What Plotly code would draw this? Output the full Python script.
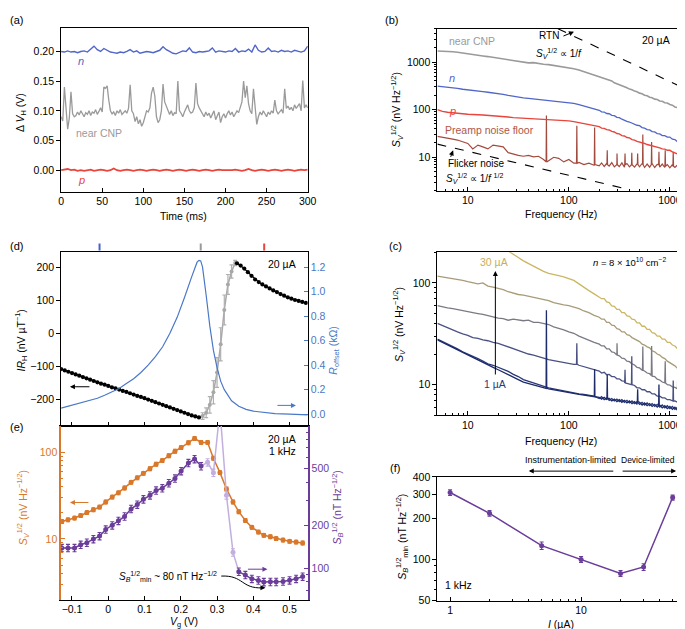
import plotly.graph_objects as go

W, H = 685, 629
FONT = "Liberation Sans, Arial, sans-serif"

# ---------------- (a) time traces ----------------
t_gray_ms = list(range(0, 301, 2))
v_near_cnp = [0.090, 0.083, 0.140, 0.095, 0.069, 0.088, 0.132, 0.095, 0.090, 0.092,
              0.098, 0.093, 0.100, 0.095, 0.090, 0.097, 0.094, 0.100, 0.092, 0.098,
              0.096, 0.102, 0.094, 0.099, 0.105, 0.098, 0.140, 0.138, 0.142, 0.118,
              0.100, 0.095, 0.098, 0.092, 0.100, 0.096, 0.102, 0.094, 0.098, 0.100,
              0.096, 0.104, 0.144, 0.100, 0.095, 0.082, 0.090, 0.078, 0.085, 0.074,
              0.080, 0.092, 0.100, 0.098, 0.105, 0.130, 0.140, 0.125, 0.090, 0.080,
              0.085, 0.100, 0.145, 0.115, 0.108, 0.098, 0.094, 0.100, 0.092, 0.097,
              0.095, 0.150, 0.100, 0.096, 0.090, 0.098, 0.105, 0.110, 0.100, 0.096,
              0.098, 0.105, 0.147, 0.112, 0.105, 0.100, 0.095, 0.090, 0.098, 0.092,
              0.096, 0.088, 0.094, 0.100, 0.085, 0.092, 0.098, 0.080, 0.090, 0.095,
              0.088, 0.095, 0.100, 0.093, 0.098, 0.090, 0.095, 0.100, 0.097, 0.105,
              0.115, 0.150, 0.122, 0.142, 0.112, 0.100, 0.095, 0.137, 0.100, 0.077,
              0.090, 0.098, 0.093, 0.100, 0.095, 0.090, 0.098, 0.094, 0.100, 0.096,
              0.118, 0.100, 0.095, 0.098, 0.102, 0.096, 0.137, 0.104, 0.108, 0.102,
              0.106, 0.100, 0.110, 0.104, 0.108, 0.112, 0.100, 0.151, 0.105, 0.110, 0.105]
t_np_ms = list(range(0, 301, 4))
v_n = [0.200, 0.199, 0.201, 0.199, 0.200, 0.198, 0.200, 0.201, 0.199, 0.204,
       0.209, 0.203, 0.200, 0.205, 0.202, 0.199, 0.198, 0.197, 0.199, 0.198,
       0.200, 0.203, 0.199, 0.201, 0.197, 0.198, 0.200, 0.199, 0.198, 0.200,
       0.202, 0.208, 0.203, 0.200, 0.197, 0.196, 0.199, 0.201, 0.200, 0.206,
       0.199, 0.198, 0.200, 0.199, 0.200, 0.201, 0.206, 0.199, 0.201, 0.200,
       0.199, 0.201, 0.200, 0.205, 0.199, 0.201, 0.200, 0.204, 0.199, 0.211,
       0.202, 0.199, 0.200, 0.206, 0.200, 0.201, 0.199, 0.202, 0.200, 0.201,
       0.199, 0.202, 0.200, 0.199, 0.201, 0.209]
v_p = [0.000, 0.001, 0.002, 0.000, 0.001, -0.001, 0.000, -0.001, 0.000, 0.001,
       -0.001, 0.000, 0.001, 0.000, -0.001, 0.000, 0.003, 0.000, -0.001, 0.000,
       0.001, 0.000, -0.001, 0.000, 0.001, 0.000, -0.001, 0.000, 0.001, 0.000,
       -0.001, 0.000, 0.001, 0.000, -0.001, 0.000, 0.001, 0.000, -0.001, 0.000,
       0.001, 0.000, -0.001, 0.000, 0.001, 0.000, -0.001, 0.000, 0.001, 0.000,
       0.000, -0.001, 0.000, 0.001, 0.000, -0.001, 0.000, 0.002, 0.000, -0.001,
       0.000, 0.001, 0.000, -0.001, 0.000, 0.001, 0.000, -0.001, 0.000, 0.001,
       0.000, -0.001, 0.000, 0.001, 0.000, 0.001]

# ---------------- (b), (c) spectra ----------------
freq_hz = [5, 5.6, 6.3, 7.1, 7.9, 8.9, 10, 11.2, 12.6, 14.1, 15.8, 17.8, 20, 22.4, 25.1, 28.2,
           31.6, 35.5, 39.8, 44.7, 50.1, 56.2, 63.1, 70.8, 79.4, 89.1, 100, 112, 126, 141, 158, 178,
           200, 211, 224, 237, 251, 266, 282, 299, 316, 335, 355, 376, 398, 422, 447, 473, 501,
           531, 562, 596, 631, 668, 708, 750, 794, 841, 891, 944, 1000, 1059, 1122, 1189, 1259, 1334]

sb_cnp = [1700, 1690, 1670, 1640, 1600, 1540, 1450, 1420, 1380, 1340, 1300, 1250, 1220, 1170, 1120, 1060,
          1040, 990, 960, 970, 920, 900, 880, 850, 820, 790, 760, 720, 680, 630, 590, 540,
          498, 470, 460, 440, 415, 400, 365, 350, 330, 318, 300, 288, 270, 262, 245, 238, 222,
          215, 200, 196, 182, 178, 166, 163, 152, 150, 140, 138, 128, 124, 114, 110, 100, 94]
sb_n = [312, 305, 298, 290, 280, 268, 258, 250, 244, 238, 232, 226, 218, 210, 200, 190,
        182, 176, 172, 168, 163, 160, 156, 152, 149, 146, 142, 136, 128, 120, 112, 104,
        97, 90, 89, 83, 82, 76, 75, 69, 68, 63, 61, 57, 55, 52, 50, 47, 46,
        42, 41, 38, 37.5, 34.5, 34, 31.5, 31, 28.5, 28.5, 26.5, 26.5, 24, 23.5, 21, 20.5, 18]
sb_p = [100, 92, 88, 85, 84, 82, 80, 80, 78, 77, 76, 75, 74, 72, 70, 68,
        67, 67, 66, 66, 65, 64, 63, 62, 60, 59, 58, 56, 53, 51, 49, 46,
        44, 41, 40.5, 38, 37.5, 35, 34, 31.5, 31, 28.5, 28, 26, 25.5, 23.5, 23, 21.5, 21,
        20, 19.5, 18.5, 18, 17, 16.8, 16, 15.8, 15, 14.8, 14, 14, 13, 12.6, 11.8, 11.2, 10.4]
sb_preamp = [27.5, 26, 25, 24, 23, 21.5, 19.5, 15, 18, 16.5, 15, 18, 17, 16.5, 12.5, 11.5,
             11, 10.5, 11, 10.2, 10.5, 9, 8.5, 10, 9.5, 8, 9, 7.5, 7.8, 7, 7.5, 6.8,
             6.6, 7.6, 6.4, 7.4, 6.5, 7.7, 6.3, 7.5, 6.4, 7.6, 6.2, 7.4, 6.3, 7.5, 6.2, 7.3, 6.3,
             7.4, 6.1, 7.2, 6.2, 7.3, 6.1, 7.1, 6.2, 7.2, 6.1, 7.0, 6.0, 7.0, 6.1, 6.9, 6.0, 6.8]
preamp_spike_f = [60, 120, 180, 240, 300, 360, 420, 480, 540, 660, 780, 900, 1080, 1200]
preamp_spike_peak = [75, 46, 42, 14, 12, 12, 12.5, 12, 30, 21, 13, 14, 13, 14]
preamp_spike_base = [8, 7.5, 7, 7, 7, 7, 7, 7, 7, 7, 7, 6.5, 6.5, 6.5]
n_spike_f, n_spike_peak, n_spike_base = [1200], [30], [21]
p_spike_f, p_spike_peak, p_spike_base = [1200], [14], [11.5]
rtn_guide_f, rtn_guide_s = [78, 1400], [5000, 278]
flicker_guide_f, flicker_guide_s = [5, 360], [18.9, 2.2]

sc_30uA = [430, 410, 390, 372, 356, 340, 325, 310, 295, 280, 268, 255, 240, 222, 205, 190,
           178, 165, 155, 145, 138, 130, 124, 122, 118, 115, 111, 106, 98, 90, 84, 78,
           73, 70, 70, 65, 64, 59.5, 59, 55, 55, 51, 51, 47.5, 47, 44, 43.5, 40.5, 40.5,
           37.5, 37.5, 35, 35, 32.5, 32, 30, 30, 28, 28, 26, 26, 24.5, 24, 22.5, 22.5, 21]
sc_20uA = [117, 115, 112, 110, 108, 106, 103, 100, 98, 100, 93, 91, 89, 86, 82, 79,
           77, 76, 74, 72, 71, 68, 67, 64, 63, 61, 60, 58, 56, 53, 51, 48,
           46, 44, 44, 41, 41, 38.5, 38, 35.5, 35, 33, 33, 31, 30.5, 29, 28, 27, 26.5,
           25, 24.5, 23.5, 23, 21.5, 21, 20, 19.5, 18.5, 18, 17, 16.5, 15.8, 15.3, 14.5, 14, 13.3]
sc_10uA = [60, 58, 57, 56, 55, 53, 52, 51, 50, 49, 47.5, 46, 45, 44.5, 43, 44,
           43, 42.5, 43, 41, 41, 40, 39, 37, 36, 34.5, 33, 32, 30, 28.5, 27.5, 26,
           25, 24, 24, 22.5, 22.5, 21, 20.7, 19.5, 19.2, 18.2, 18, 17, 16.8, 16, 15.6, 14.8, 14.6,
           13.8, 13.6, 13, 12.8, 12.1, 12, 11.3, 11.1, 10.6, 10.4, 10, 9.9, 9.5, 9.4, 9.1, 9, 8.7]
sc_5uA = [40, 38, 36, 34.5, 33, 31.5, 30.5, 29, 28.5, 27.5, 27, 26, 25.5, 24.5, 23.5, 22.5,
          21.8, 21, 20, 19.5, 18.8, 18, 17.6, 17.2, 16.8, 16.5, 16.2, 15.8, 15.5, 15, 14.5, 14.1,
          13.6, 13, 13.2, 12.5, 12.6, 12, 12, 11.4, 11.4, 10.9, 10.8, 10.3, 10.2, 9.8, 9.8, 9.3, 9.3,
          8.9, 8.9, 8.5, 8.5, 8.1, 8.1, 7.7, 7.7, 7.4, 7.4, 7.1, 7.1, 6.9, 6.9, 6.7, 6.7, 6.5]
sc_2uA = [28, 26.5, 25, 24, 22.5, 21, 20, 19, 18, 17, 16, 15.5, 14.8, 14, 13.5, 12.6,
          12, 11.2, 10.8, 10.3, 9.9, 9.6, 9.3, 9.1, 8.9, 8.6, 8.4, 8.2, 8.1, 8, 7.8, 7.7,
          7.3, 7.6, 7.1, 7.4, 7.0, 7.3, 6.9, 7.2, 6.8, 7.1, 6.7, 7.0, 6.6, 6.9, 6.5, 6.8, 6.4,
          6.7, 6.3, 6.6, 6.2, 6.5, 6.1, 6.4, 6.0, 6.3, 5.9, 6.2, 5.8, 6.1, 5.7, 6.0, 5.6, 5.9]
sc_1uA = [27.5, 26, 24.5, 23, 22, 20.5, 19.5, 18.5, 17.5, 16.5, 15.5, 14.8, 14, 13.2, 12.5, 11.8,
          11.2, 10.6, 10.3, 9.9, 9.6, 9.3, 9.1, 8.9, 8.7, 8.5, 8.3, 8.1, 8, 7.9, 7.7, 7.6,
          7.5, 7.2, 7.5, 7.1, 7.3, 6.9, 7.2, 6.8, 7.1, 6.7, 7.0, 6.6, 6.9, 6.5, 6.8, 6.4, 6.7,
          6.3, 6.6, 6.2, 6.5, 6.1, 6.4, 6.0, 6.3, 5.9, 6.2, 5.8, 6.1, 5.7, 6.0, 5.6, 5.9, 5.6]
c1_spike_f, c1_spike_peak, c1_spike_base = [60, 180, 240, 480, 780], [54, 14.2, 12.5, 9, 10], [9.2, 7.6, 7.3, 6.8, 6.2]
c5_spike_f, c5_spike_peak, c5_spike_base = [120, 360, 420, 1080], [25.5, 14, 19, 11], [15.8, 10.4, 10, 6.9]
c10_spike_f, c10_spike_peak, c10_spike_base = [300, 540, 660, 900, 1200], [25.5, 23.7, 24, 17, 14], [19.5, 13.8, 12.3, 10.4, 9.1]

# ---------------- (d) ----------------
vg_d_left = [-0.13, -0.12, -0.11, -0.10, -0.09, -0.08, -0.07, -0.06, -0.05, -0.04, -0.03, -0.02, -0.01,
             0.00, 0.01, 0.02, 0.03, 0.04, 0.05, 0.06, 0.07, 0.08, 0.09, 0.10, 0.11, 0.12, 0.13,
             0.14, 0.15, 0.16, 0.17, 0.18, 0.19, 0.20, 0.21, 0.22, 0.23, 0.24, 0.25]
irh_left = [-108, -112, -116, -120, -124, -128, -132, -136, -140, -144, -148, -152, -155,
            -159, -163, -166, -170, -174, -177, -181, -185, -189, -192, -196, -200, -204, -208,
            -212, -216, -220, -224, -228, -232, -236, -240, -244, -248, -251, -254]
vg_d_mid = [0.26, 0.27, 0.28, 0.29, 0.30, 0.31, 0.32, 0.33, 0.34, 0.35]
irh_mid = [-250, -240, -216, -178, -118, -33, 71, 148, 187, 213]
irh_mid_err = [10, 15, 25, 35, 45, 50, 45, 30, 20, 8]
vg_d_right = [0.355, 0.365, 0.375, 0.385, 0.395, 0.405, 0.415, 0.425, 0.435, 0.445,
              0.455, 0.465, 0.475, 0.485, 0.495, 0.505, 0.515, 0.525, 0.535, 0.545]
irh_right = [212, 205, 196, 185, 174, 163, 155, 148, 142, 136,
             130, 125, 119, 114, 109, 105, 101, 98, 95, 92]
vg_roff = [-0.13, -0.11, -0.09, -0.07, -0.05, -0.03, -0.01, 0.01, 0.03, 0.05, 0.07, 0.09, 0.11, 0.13,
           0.15, 0.17, 0.19, 0.21, 0.22, 0.23, 0.24, 0.245, 0.25, 0.255, 0.26, 0.265, 0.27, 0.28,
           0.29, 0.30, 0.31, 0.32, 0.33, 0.34, 0.36, 0.38, 0.40, 0.43, 0.46, 0.50, 0.55]
r_offset = [0.05, 0.065, 0.08, 0.095, 0.11, 0.13, 0.155, 0.18, 0.21, 0.25, 0.29, 0.34, 0.40, 0.47,
            0.55, 0.66, 0.79, 0.95, 1.04, 1.12, 1.2, 1.24, 1.255, 1.25, 1.2, 1.1, 0.97, 0.72,
            0.52, 0.38, 0.27, 0.2, 0.15, 0.11, 0.065, 0.04, 0.025, 0.012, 0.005, 0.0, -0.005]
gate_marks_vg = [-0.024, 0.255, 0.43]
gate_marks_col = ["#4a62c8", "#9a9a9a", "#e8453c"]

# ---------------- (e) ----------------
vg_e = [-0.128, -0.111, -0.093, -0.076, -0.059, -0.041, -0.024, -0.007, 0.011, 0.028, 0.045, 0.063,
        0.080, 0.097, 0.115, 0.132, 0.149, 0.167, 0.184, 0.201, 0.221, 0.238, 0.256, 0.274, 0.290,
        0.308, 0.326, 0.344, 0.360, 0.378, 0.396, 0.414, 0.429, 0.447, 0.463, 0.482, 0.500, 0.518, 0.536]
sv_e = [15.9, 16.6, 17.4, 18.6, 20.1, 21.7, 23.3, 26.7, 30.4, 34.0, 38.7, 44.9, 50.6, 57.0, 64.4, 72.6,
        80.0, 91.0, 102.6, 113, 128.5, 143.6, 129.5, 129.5, 85, 58.1, 37.7, 26.7, 20.6, 16.3, 13.6,
        12.0, 11.0, 10.6, 10.1, 9.7, 9.4, 9.2, 9.0]
sb_e = [138.6, 138.6, 138.6, 146, 151, 160, 168, 187, 200, 215, 231, 261, 280, 305, 325, 352, 365,
        396, 427, 482, 549, 585, 522, 555, 469, 1300, 325, 129, 94.4, 89.5, 84, 81.9, 79.8, 80, 80,
        80.6, 82, 84, 87.2]
sb_e_light_idx = [23, 24, 25, 26, 27]

# ---------------- (f) ----------------
i_ua = [1, 2, 5, 10, 20, 30, 50]
sb_min = [308, 217, 126, 100, 79, 88, 283]
sb_min_err = [15, 10, 8, 5, 4, 5, 12]

# ================= build figure =================
def dom_x(a, b):
    return [a / W, b / W]

def dom_y(top, bot):
    return [1 - bot / H, 1 - top / H]

def with_spikes(f, s, sf, sp, sb):
    pts = list(zip(f, s))
    for a, p, b in zip(sf, sp, sb):
        pts += [(a * 0.993, b), (a, p), (a * 1.007, b)]
    pts.sort()
    return [q[0] for q in pts], [q[1] for q in pts]

fig = go.Figure()

def line(x, y, xa, ya, color, width=1.2, dash=None, **kw):
    fig.add_trace(go.Scatter(x=x, y=y, xaxis=xa, yaxis=ya, mode="lines",
                             line=dict(color=color, width=width, dash=dash), hoverinfo="skip", **kw))

# (a)
line(t_gray_ms, v_near_cnp, "x", "y", "#9a9a9a", 1.3)
line(t_np_ms, v_n, "x", "y", "#5166c9", 1.4)
line(t_np_ms, v_p, "x", "y", "#e8453c", 1.8)

# (b)
fx, fy = with_spikes(freq_hz, sb_preamp, preamp_spike_f, preamp_spike_peak, preamp_spike_base)
line(fx, fy, "x2", "y2", "#a34a3e", 1.2)
fx, fy = with_spikes(freq_hz, sb_p, p_spike_f, p_spike_peak, p_spike_base)
line(fx, fy, "x2", "y2", "#e8453c", 1.4)
fx, fy = with_spikes(freq_hz, sb_n, n_spike_f, n_spike_peak, n_spike_base)
line(fx, fy, "x2", "y2", "#5166c9", 1.3)
line(freq_hz, sb_cnp, "x2", "y2", "#9a9a9a", 1.6)
line(rtn_guide_f, rtn_guide_s, "x2", "y2", "black", 1.1, "dash")
line(flicker_guide_f, flicker_guide_s, "x2", "y2", "black", 1.1, "dash")

# (c)
c_curves = [
    (sc_30uA, [], [], [], "#cbb663"),
    (sc_20uA, [], [], [], "#a89b78"),
    (sc_10uA, c10_spike_f, c10_spike_peak, c10_spike_base, "#7b7a84"),
    (sc_5uA, c5_spike_f, c5_spike_peak, c5_spike_base, "#4a5182"),
    (sc_2uA, [], [], [], "#2a3878"),
    (sc_1uA, c1_spike_f, c1_spike_peak, c1_spike_base, "#1d2b6b"),
]
for s, sf, sp, sbs, col in c_curves:
    fx, fy = with_spikes(freq_hz, s, sf, sp, sbs)
    line(fx, fy, "x3", "y3", col, 1.3)

# (d)
line(vg_roff, r_offset, "x4", "y5", "#4a78c8", 1.2)
fig.add_trace(go.Scatter(x=[vg_d_left[-1]] + vg_d_mid + [vg_d_right[0]],
                         y=[irh_left[-1]] + irh_mid + [irh_right[0]],
                         xaxis="x4", yaxis="y4", mode="lines", line=dict(color="#a8a8a8", width=1.5),
                         hoverinfo="skip"))
fig.add_trace(go.Scatter(x=vg_d_mid, y=irh_mid, xaxis="x4", yaxis="y4", mode="markers",
                         marker=dict(color="#a8a8a8", size=4),
                         error_y=dict(type="data", array=irh_mid_err, color="#b0b0b0", thickness=1.2, width=2),
                         hoverinfo="skip"))
for vx, vy in [(vg_d_left, irh_left), (vg_d_right, irh_right)]:
    fig.add_trace(go.Scatter(x=vx, y=vy, xaxis="x4", yaxis="y4", mode="lines+markers",
                             line=dict(color="black", width=1.2), marker=dict(color="black", size=4.2),
                             hoverinfo="skip"))

# (e)
ORANGE, PURPLE, LPURPLE = "#d9782a", "#6a3d9a", "#c3aee0"
fig.add_trace(go.Scatter(x=vg_e, y=sv_e, xaxis="x5", yaxis="y6", mode="lines+markers",
                         line=dict(color=ORANGE, width=1.5), marker=dict(color=ORANGE, size=5),
                         error_y=dict(type="percent", value=5, color=ORANGE, thickness=1.1, width=2),
                         hoverinfo="skip"))
lo, hi = sb_e_light_idx[0] - 1, sb_e_light_idx[-1] + 1
fig.add_trace(go.Scatter(x=vg_e[lo:hi + 1], y=sb_e[lo:hi + 1], xaxis="x5", yaxis="y7", mode="lines",
                         line=dict(color=LPURPLE, width=1.5), hoverinfo="skip"))
fig.add_trace(go.Scatter(x=[vg_e[i] for i in sb_e_light_idx], y=[sb_e[i] for i in sb_e_light_idx],
                         xaxis="x5", yaxis="y7", mode="markers", marker=dict(color=LPURPLE, size=5),
                         error_y=dict(type="percent", value=6, color=LPURPLE, thickness=1.1, width=2),
                         hoverinfo="skip"))
for a, b in [(0, lo), (hi, len(vg_e) - 1)]:
    fig.add_trace(go.Scatter(x=vg_e[a:b + 1], y=sb_e[a:b + 1], xaxis="x5", yaxis="y7", mode="lines+markers",
                             line=dict(color=PURPLE, width=1.5), marker=dict(color=PURPLE, size=5),
                             error_y=dict(type="percent", value=6, color=PURPLE, thickness=1.1, width=2),
                             hoverinfo="skip"))

# (f)
fig.add_trace(go.Scatter(x=i_ua, y=sb_min, xaxis="x6", yaxis="y8", mode="lines+markers",
                         line=dict(color=PURPLE, width=1.5), marker=dict(color=PURPLE, size=5),
                         error_y=dict(type="data", array=sb_min_err, color=PURPLE, thickness=1.1, width=2),
                         hoverinfo="skip"))

# ---------------- axes ----------------
def axis(**kw):
    base = dict(showline=True, linecolor="black", linewidth=1, mirror=True, showgrid=False,
                zeroline=False, ticks="outside", ticklen=4, tickwidth=1, tickcolor="black",
                tickfont=dict(size=10.5, color="black", family=FONT))
    base.update(kw)
    return base

def decade_minor(lo_exp, hi_exp, lo, hi):
    vals = []
    for e in range(lo_exp, hi_exp + 1):
        for m in range(2, 10):
            v = m * 10 ** e
            if lo <= v <= hi:
                vals.append(v)
    return vals

XA = dom_x(51, 302)
XB = dom_x(434, 684)
LOG5, LOG1350 = 0.69897, 3.13033

layout = dict(
    width=W, height=H, margin=dict(l=0, r=0, t=0, b=0), paper_bgcolor="white", plot_bgcolor="white",
    showlegend=False, font=dict(family=FONT, size=10.5, color="black"),
    # (a)
    xaxis=axis(domain=XA, anchor="y", range=[0, 300], tickvals=[0, 50, 100, 150, 200, 250, 300], ticks="inside"),
    yaxis=axis(domain=dom_y(14, 181), anchor="x", range=[-0.036, 0.24],
               tickvals=[0, 0.05, 0.10, 0.15, 0.20], tickformat=".2f"),
    # (b)
    xaxis2=axis(domain=XB, anchor="y2", type="log", range=[LOG5, LOG1350], tickvals=[10, 100, 1000],
                ticktext=["10", "100", "1000"], ticks="inside",
                minor=dict(tickvals=decade_minor(0, 3, 5, 1350), ticks="inside", ticklen=2, tickcolor="black")),
    yaxis2=axis(domain=dom_y(15, 180), anchor="x2", type="log", range=[0.30103, 3.69897],
                tickvals=[10, 100, 1000], ticktext=["10", "100", "1000"],
                minor=dict(tickvals=decade_minor(0, 3, 2, 5000), ticks="outside", ticklen=2, tickcolor="black")),
    # (c)
    xaxis3=axis(domain=XB, anchor="y3", type="log", range=[LOG5, LOG1350], tickvals=[10, 100, 1000],
                ticktext=["10", "100", "1000"], ticks="inside",
                minor=dict(tickvals=decade_minor(0, 3, 5, 1350), ticks="inside", ticklen=2, tickcolor="black")),
    yaxis3=axis(domain=dom_y(243, 409), anchor="x3", type="log", range=[0.69897, 2.30103],
                tickvals=[10, 100], ticktext=["10", "100"],
                minor=dict(tickvals=decade_minor(0, 2, 5, 200), ticks="outside", ticklen=2, tickcolor="black")),
    # (d)
    xaxis4=axis(domain=XA, anchor="y4", range=[-0.13, 0.55], tickvals=[-0.1, 0, 0.1, 0.2, 0.3, 0.4, 0.5],
                showticklabels=False, ticks="inside"),
    yaxis4=axis(domain=dom_y(243, 420), anchor="x4", range=[-280, 245], mirror=False,
                tickvals=[-200, -100, 0, 100, 200], ticktext=["\u2212200", "\u2212100", "0", "100", "200"]),
    yaxis5=axis(anchor="x4", overlaying="y4", side="right", range=[-0.096, 1.32], mirror=False,
                tickvals=[0, 0.2, 0.4, 0.6, 0.8, 1.0, 1.2], tickformat=".1f", ticks="inside",
                tickcolor="#4a78c8", tickfont=dict(size=10.5, color="#4a78c8", family=FONT)),
    # (e)
    xaxis5=axis(domain=XA, anchor="y6", range=[-0.13, 0.55], tickvals=[-0.1, 0, 0.1, 0.2, 0.3, 0.4, 0.5],
                ticktext=["\u22120.1", "0", "0.1", "0.2", "0.3", "0.4", "0.5"], ticks="inside"),
    yaxis6=axis(domain=dom_y(420, 597), anchor="x5", type="log", range=[0.30103, 2.30103], mirror=False,
                linecolor=ORANGE, linewidth=1.5, tickcolor=ORANGE, ticks="inside",
                tickvals=[10, 100], ticktext=["10", "100"],
                tickfont=dict(size=10.5, color=ORANGE, family=FONT),
                minor=dict(tickvals=decade_minor(0, 2, 2, 200), ticks="inside", ticklen=2, tickcolor=ORANGE)),
    yaxis7=axis(anchor="x5", overlaying="y6", side="right", type="log", range=[1.77815, 3.0], mirror=False,
                linecolor=PURPLE, linewidth=1.5, tickcolor=PURPLE, ticks="inside",
                tickvals=[100, 200, 500], ticktext=["100", "200", "500"],
                tickfont=dict(size=10.5, color=PURPLE, family=FONT),
                minor=dict(tickvals=decade_minor(1, 3, 60, 1000), ticks="inside", ticklen=2, tickcolor=PURPLE)),
    # (f)
    xaxis6=axis(domain=XB, anchor="y8", type="log", range=[-0.09691, 1.77815], tickvals=[1, 10],
                ticktext=["1", "10"], ticks="inside",
                minor=dict(tickvals=decade_minor(0, 1, 0.8, 60), ticks="inside", ticklen=2, tickcolor="black")),
    yaxis8=axis(domain=dom_y(472, 598), anchor="x6", type="log", range=[1.69897, 2.60206],
                tickvals=[50, 100, 200, 300, 400], ticktext=["50", "100", "200", "300", "400"],
                minor=dict(tickvals=[60, 70, 80, 90], ticks="outside", ticklen=2, tickcolor="black")),
)
fig.update_layout(**layout)

# ---------------- annotations ----------------
ann = []

def text(x, y, s, size=10.5, color="black", xanchor="center", angle=0):
    ann.append(dict(x=x / W, y=1 - y / H, xref="paper", yref="paper", text=s, showarrow=False,
                    font=dict(size=size, color=color, family=FONT), xanchor=xanchor, yanchor="middle",
                    textangle=angle))

def arrow(xh, yh, xt, yt, color="black", head=2, width=1.0):
    ann.append(dict(x=xh / W, y=1 - yh / H, xref="paper", yref="paper", ax=xt - xh, ay=yt - yh,
                    showarrow=True, arrowhead=head, arrowsize=1, arrowwidth=width, arrowcolor=color, text=""))

SV = "<i>S</i><sub><i>V</i></sub><sup>1/2</sup>"
# panel letters
for lab, x, y in [("(a)", 6, 6), ("(b)", 387, 6), ("(c)", 391, 237), ("(d)", 6, 237), ("(e)", 6, 421), ("(f)", 391, 463)]:
    text(x, y, lab, 11)

# (a)
text(10, 100, "\u0394 <i>V</i><sub>H</sub> (V)", angle=-90)
text(176, 206, "Time (ms)")
text(66, 48, "<i>n</i>", 11, "#5166c9", "left")
text(64, 121, "near CNP", 10.5, "#9a9a9a", "left")
text(66, 169, "<i>p</i>", 11, "#e8453c", "left")

# (b)
text(393, 98, SV + " (nV Hz<sup>\u22121/2</sup>)", angle=-90)
text(560, 204, "Frequency (Hz)")
text(444, 28, "near CNP", 10.5, "#9a9a9a", "left")
text(444, 65, "<i>n</i>", 11, "#5166c9", "left")
text(444, 99, "<i>p</i>", 11, "#e8453c", "left")
text(440, 118, "Preamp noise floor", 10.5, "#b0564a", "left")
text(443, 152, "Flicker noise", 10, "black", "left")
text(441, 168, SV + " \u221d 1/<i>f</i> <sup>1/2</sup>", 10, "black", "left")
text(535, 22, "RTN", 10, "black", "left")
text(532, 40, SV + " \u221d 1/<i>f</i>", 10, "black", "left")
text(673, 26, "20 \u00b5A", 10.5, "black", "right")
arrow(573, 18, 561, 23)
arrow(450, 139, 447, 147)

# (c)
text(630, 253, "<i>n</i> = 8 \u00d7 10<sup>10</sup> cm<sup>\u22122</sup>", 9.5, "black", "center")
text(395, 317, SV + " (nV Hz<sup>\u22121/2</sup>)", angle=-90)
text(560, 435, "Frequency (Hz)")
text(492, 253, "30 \u00b5A", 10.5, "#c5b05a")
text(493, 377, "1 \u00b5A", 10.5, "#2a3878")
arrow(493, 262, 493, 367)

# (d)
text(10, 333, "<i>IR</i><sub>H</sub> (nV \u00b5T<sup>\u22121</sup>)", angle=-90)
text(329, 343, "<i>R</i><sub>offset</sub> (k\u03a9)", 10.5, "#4a78c8", angle=-90)
text(292, 255, "20 \u00b5A", 10.5, "black", "right")
arrow(60, 380, 81, 380)
arrow(290, 399, 270, 399, "#4a78c8")

# (e)
text(13, 503, SV + " (nV Hz<sup>\u22121/2</sup>)", 10.5, ORANGE, angle=-90)
text(333, 503, "<i>S</i><sub><i>B</i></sub><sup>1/2</sup> (nT Hz<sup>\u22121/2</sup>)", 10.5, PURPLE, angle=-90)
text(176, 620, "<i>V</i><sub>g</sub> (V)")
text(292, 433, "20 \u00b5A", 10.5, "black", "right")
text(292, 445, "1 kHz", 10.5, "black", "right")
text(212, 573, "<i>S</i><sub><i>B</i></sub><sup>1/2</sup><sub>min</sub> ~ 80 nT Hz<sup>\u22121/2</sup>", 10, "black", "right")
arrow(60, 498, 80, 498, ORANGE)
arrow(261, 566, 240, 566, PURPLE)
arrow(259, 585, 253, 585)

# (f)
text(398, 533, "<i>S</i><sub><i>B</i></sub><sup>1/2</sup><sub>min</sub> (nT Hz<sup>\u22121/2</sup>)", angle=-90)
text(560, 622, "<i>I</i> (\u00b5A)")
text(440, 582, "1 kHz", 10.5, "black", "left")
text(569, 455, "Instrumentation-limited", 9)
text(648, 455, "Device-limited", 8.5)
arrow(527, 466, 613, 466)
arrow(677, 466, 622, 466)

fig.update_layout(annotations=ann)

# gate-voltage marks above (d)
for vg, col in zip(gate_marks_vg, gate_marks_col):
    fig.add_shape(type="line", xref="x4", yref="paper", x0=vg, x1=vg, y0=1 - 241 / H, y1=1 - 234 / H,
                  line=dict(color=col, width=2))

# curved connector in (e)
def P(x, y):
    return f"{x / W:.5f},{1 - y / H:.5f}"

fig.add_shape(type="path", xref="paper", yref="paper",
              path=f"M {P(214, 573)} C {P(237, 572)} {P(234, 586)} {P(256, 585)}",
              line=dict(color="black", width=1))

fig.write_html("out.html")
